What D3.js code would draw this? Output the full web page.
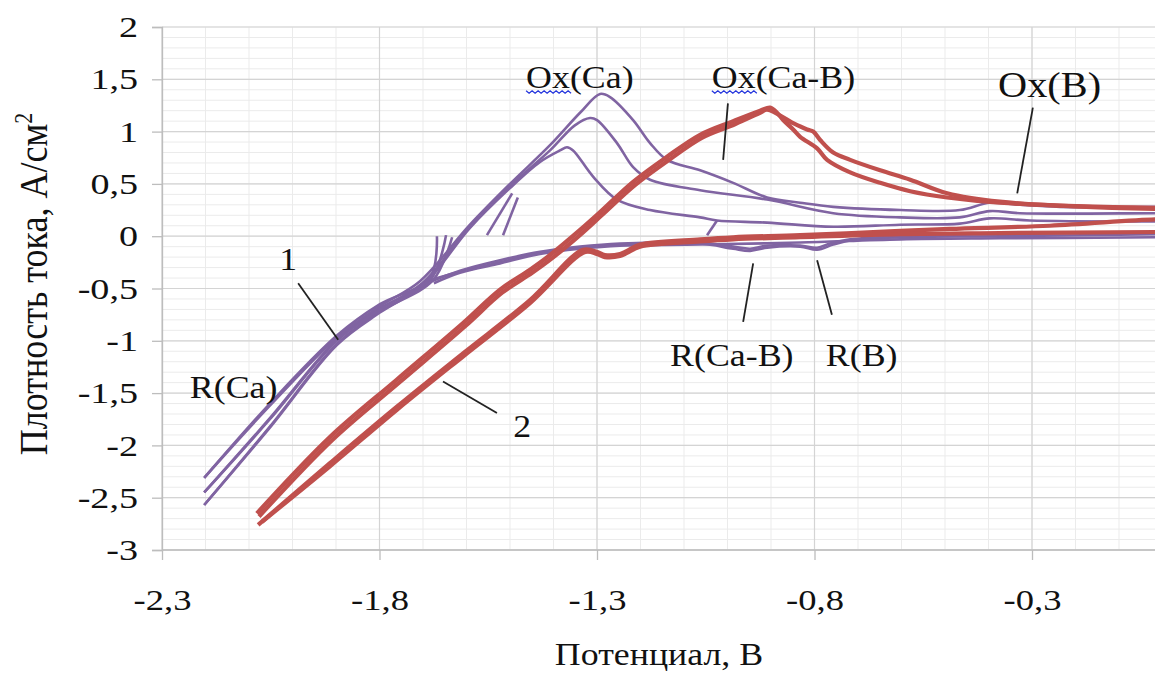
<!DOCTYPE html>
<html><head><meta charset="utf-8">
<script src="https://cdn.jsdelivr.net/npm/d3@7"></script>
<style>body{margin:0;background:#fff}svg{display:block}</style>
</head><body><svg id="c" width="1155" height="675"></svg>
<script>
// ---------- data (potential V, current density A/cm2) ----------
const xTicks = [-2.3, -1.8, -1.3, -0.8, -0.3];
const yTicks = [2, 1.5, 1, 0.5, 0, -0.5, -1, -1.5, -2, -2.5, -3];

// curve 1 (Ca): cathodic branches (start -> cathodic limit)
const caDown1 = [[-1.668,0.00],[-1.684,-0.40],[-1.799,-0.65],[-1.898,-0.95],[-2.052,-1.60],[-2.203,-2.31]];
const caDown2 = [[-1.647,0.01],[-1.682,-0.41],[-1.799,-0.69],[-1.898,-0.99],[-2.052,-1.74],[-2.203,-2.45]];
const caDown3 = [[-1.633,-0.01],[-1.677,-0.42],[-1.799,-0.72],[-1.898,-1.03],[-2.052,-1.82],[-2.203,-2.57]];
// curve 1 (Ca): anodic branches + return scan
const caUp1 = [[-2.203,-2.31],[-2.052,-1.62],[-1.898,-0.97],[-1.799,-0.67],[-1.707,-0.43],
  [-1.592,0.11],[-1.500,0.50],[-1.408,0.87],[-1.339,1.18],[-1.293,1.36],[-1.270,1.33],[-1.217,1.11],
  [-1.178,0.89],[-1.139,0.73],[-1.063,0.63],[-0.987,0.51],[-0.909,0.37],[-0.833,0.32],[-0.757,0.28],
  [-0.603,0.25],[-0.466,0.25],[-0.397,0.32],[-0.328,0.30],[-0.236,0.28],[-0.017,0.28],[0.05,0.28],
  [0.05,0.03],[-0.017,0.02],[-0.374,0.00],[-0.603,-0.01],[-0.718,-0.04],[-0.757,-0.08],[-0.794,-0.13],
  [-0.833,-0.10],[-0.909,-0.11],[-0.948,-0.14],[-0.987,-0.12],[-1.063,-0.07],[-1.247,-0.08],
  [-1.339,-0.11],[-1.431,-0.16],[-1.523,-0.25],[-1.615,-0.34],[-1.684,-0.42]];
const caUp2 = [[-2.203,-2.45],[-2.052,-1.75],[-1.898,-1.00],[-1.799,-0.70],[-1.702,-0.45],
  [-1.592,0.09],[-1.500,0.48],[-1.408,0.82],[-1.351,1.06],[-1.316,1.13],[-1.300,1.11],[-1.254,0.89],
  [-1.217,0.66],[-1.178,0.54],[-1.063,0.44],[-0.909,0.35],[-0.757,0.22],[-0.603,0.18],[-0.466,0.18],
  [-0.397,0.24],[-0.328,0.22],[-0.017,0.22],[0.05,0.22],
  [0.05,0.05],[-0.017,0.04],[-0.374,0.02],[-0.603,0.00],[-0.718,-0.03],[-0.764,-0.07],[-0.794,-0.11],
  [-0.833,-0.09],[-0.909,-0.09],[-0.948,-0.12],[-0.987,-0.10],[-1.063,-0.06],[-1.247,-0.07],
  [-1.339,-0.10],[-1.431,-0.15],[-1.523,-0.23],[-1.615,-0.33],[-1.680,-0.43]];
const caUp3 = [[-2.203,-2.57],[-2.052,-1.83],[-1.898,-1.04],[-1.799,-0.73],[-1.698,-0.46],
  [-1.592,0.08],[-1.500,0.46],[-1.431,0.71],[-1.385,0.82],[-1.369,0.85],[-1.355,0.82],[-1.309,0.57],
  [-1.254,0.35],[-1.178,0.25],[-1.063,0.18],[-1.024,0.15],[-0.909,0.13],[-0.757,0.09],[-0.603,0.11],
  [-0.466,0.12],[-0.397,0.17],[-0.305,0.15],[-0.017,0.14],[0.05,0.14],
  [0.05,0.00],[-0.017,-0.01],[-0.374,-0.02],[-0.603,-0.03],[-0.833,-0.06],[-1.063,-0.08],[-1.247,-0.09],
  [-1.339,-0.12],[-1.431,-0.17],[-1.523,-0.26],[-1.615,-0.35],[-1.675,-0.45]];
const caStub1 = [[-1.553,0.01],[-1.495,0.41]];
const caStub2 = [[-1.516,0.01],[-1.482,0.37]];
const caStub3 = [[-1.047,0.01],[-1.024,0.15]];

// curve 2 (Ca-B): cathodic branches
const cabDown1 = [[0.05,0.16],[-0.017,0.16],[-0.259,0.10],[-0.489,0.07],[-0.603,0.05],[-0.833,0.01],
  [-0.987,-0.01],[-1.063,-0.03],[-1.201,-0.08],[-1.231,-0.14],[-1.247,-0.17],[-1.282,-0.18],[-1.300,-0.15],
  [-1.332,-0.13],[-1.454,-0.61],[-1.608,-1.12],[-1.760,-1.63],[-1.914,-2.17],[-2.079,-2.76]];
const cabDown2 = [[0.05,0.04],[-0.017,0.04],[-0.374,0.03],[-0.603,0.02],[-0.833,-0.01],[-0.987,-0.03],
  [-1.063,-0.05],[-1.201,-0.10],[-1.231,-0.16],[-1.247,-0.19],[-1.282,-0.20],[-1.300,-0.17],[-1.327,-0.15],
  [-1.454,-0.64],[-1.608,-1.15],[-1.760,-1.66],[-1.914,-2.20],[-2.070,-2.73]];
// curve 2 (Ca-B): anodic branches
const cabUp1 = [[-2.082,-2.65],[-1.914,-1.92],[-1.760,-1.37],[-1.608,-0.83],[-1.523,-0.51],[-1.454,-0.32],
  [-1.408,-0.18],[-1.339,0.06],[-1.293,0.23],[-1.217,0.52],[-1.139,0.76],[-1.063,0.97],[-0.987,1.10],
  [-0.925,1.20],[-0.902,1.23],[-0.886,1.18],[-0.872,1.11],[-0.849,1.02],[-0.833,0.95],[-0.794,0.84],
  [-0.771,0.73],[-0.718,0.61],[-0.649,0.51],[-0.580,0.43],[-0.495,0.37],[-0.374,0.32],[-0.017,0.27],[0.05,0.27]];
const cabUp2 = [[-2.077,-2.68],[-1.909,-1.95],[-1.755,-1.40],[-1.603,-0.86],[-1.518,-0.54],[-1.449,-0.35],
  [-1.403,-0.21],[-1.334,0.03],[-1.289,0.20],[-1.212,0.49],[-1.134,0.73],[-1.059,0.94],[-0.983,1.07],
  [-0.925,1.18],[-0.909,1.21],[-0.849,1.08],[-0.817,1.02],[-0.803,1.00],[-0.787,0.92],[-0.757,0.80],
  [-0.718,0.73],[-0.649,0.63],[-0.580,0.54],[-0.495,0.41],[-0.374,0.33],[-0.017,0.26],[0.05,0.26]];

// annotations: text, anchor point (V, J); leader lines (V1,J1,V2,J2)
const labelTexts = ["Ox(Ca)", "Ox(Ca-B)", "Ox(B)", "1", "R(Ca)", "2", "R(Ca-B)", "R(B)"];
const labelPoints = [[-1.463,1.42],[-1.036,1.42],[-0.378,1.33],[-2.010,-0.32],[-2.236,-1.55],[-1.472,-1.92],[-1.132,-1.24],[-0.774,-1.24]];
const leaderLines = [[-0.999,1.27,-1.010,0.73],[-0.298,1.23,-0.334,0.41],[-1.987,-0.45,-1.895,-0.99],
  [-1.654,-1.39,-1.530,-1.69],[-0.941,-0.26,-0.964,-0.82],[-0.794,-0.23,-0.760,-0.75]];

// ---------- drawing ----------
const svg = d3.select("#c");
const FONT = "'Liberation Serif','Times New Roman',serif";
svg.append("rect").attr("width",1155).attr("height",675).attr("fill","#fff");

const x = d3.scaleLinear().domain([-2.3, 0.2]).range([162, 1249.5]);
const y = d3.scaleLinear().domain([-3, 2]).range([550, 27]);
const r1 = v => Math.round(v*10)/10;

// minor grid
const gMinor = svg.append("g");
d3.range(0, 26).map(i => r1(-2.3 + i*0.1)).forEach(v => {
  gMinor.append("line").attr("x1", x(v)).attr("x2", x(v)).attr("y1", 27).attr("y2", 550)
    .attr("stroke", "#ebebeb").attr("stroke-width", 1);
});
d3.range(0, 51).map(i => r1(-3 + i*0.1)).forEach(v => {
  gMinor.append("line").attr("x1", 162).attr("x2", 1155).attr("y1", y(v)).attr("y2", y(v))
    .attr("stroke", "#ebebeb").attr("stroke-width", 1);
});
// major grid
const gMajor = svg.append("g");
d3.range(0, 6).map(i => r1(-2.3 + i*0.5)).forEach(v => {
  gMajor.append("line").attr("x1", x(v)).attr("x2", x(v)).attr("y1", 27).attr("y2", 550)
    .attr("stroke", "#d4d4d4").attr("stroke-width", 1.2);
});
yTicks.forEach(v => {
  gMajor.append("line").attr("x1", 162).attr("x2", 1155).attr("y1", y(v)).attr("y2", y(v))
    .attr("stroke", "#d4d4d4").attr("stroke-width", 1.2);
});

const fmt = v => d3.format("")(v).replace(".", ",").replace("−", "-");

// axes
const yAxis = svg.append("g").attr("transform", "translate(162,0)")
  .call(d3.axisLeft(y).tickValues(yTicks).tickFormat(fmt).tickSize(10));
const xAxis = svg.append("g").attr("transform", "translate(0,550)")
  .call(d3.axisBottom(x).tickValues(xTicks).tickFormat(fmt).tickSize(10));
[yAxis, xAxis].forEach(a => {
  a.select(".domain").attr("stroke", "#bdbdbd").attr("stroke-width", 1.3);
  a.selectAll(".tick line").attr("stroke", "#bdbdbd").attr("stroke-width", 1.3);
  a.selectAll(".tick text").attr("font-family", FONT).attr("font-size", 30).attr("fill", "#111");
});
yAxis.selectAll(".tick text").attr("x", 0).attr("transform", "translate(-24,0) scale(1.27,1)");
xAxis.selectAll(".tick text").attr("y", 0).attr("transform", "translate(0,39) scale(1.22,1)");
xAxis.select(".domain").attr("d", "M162,0H1155");

// curves
const line = d3.line().x(d => x(d[0])).y(d => y(d[1])).curve(d3.curveCatmullRom.alpha(0.5));
const gLines = svg.append("g");
[caDown1, caDown2, caDown3, caUp1, caUp2, caUp3, caStub1, caStub2, caStub3].forEach(s => {
  gLines.append("path").attr("d", line(s)).attr("fill", "none")
    .attr("stroke", "#8064A2").attr("stroke-width", 2.6).attr("stroke-linejoin", "round");
});
[cabDown1, cabDown2, cabUp1, cabUp2].forEach(s => {
  gLines.append("path").attr("d", line(s)).attr("fill", "none")
    .attr("stroke", "#C0504D").attr("stroke-width", 4.2).attr("stroke-linejoin", "round");
});

// leader lines
leaderLines.forEach(l => {
  svg.append("line").attr("x1", x(l[0])).attr("y1", y(l[1])).attr("x2", x(l[2])).attr("y2", y(l[3]))
    .attr("stroke", "#222").attr("stroke-width", 1.8);
});

// labels
const labelSizes = [32, 32, 36, 32, 32, 32, 32, 32];
const anchors = ["start","start","start","middle","start","middle","start","start"];
const SX = 1.12;
labelTexts.forEach((t, i) => {
  const px = x(labelPoints[i][0]), py = y(labelPoints[i][1]);
  const el = svg.append("text")
    .attr("transform", `translate(${px},${py}) scale(${SX},1)`)
    .attr("font-family", FONT).attr("font-size", labelSizes[i]).attr("text-anchor", anchors[i])
    .attr("fill", "#111").text(t);
  if (i < 2) {
    const w = el.node().getSubStringLength(0, 2) * SX;
    const y0 = py + 3;
    let d = "M" + px + "," + y0;
    for (let k = 0; k * 3 < w; k++) d += "L" + (px + (k + 1) * 3) + "," + (y0 + (k % 2 ? 0 : 2.5));
    svg.append("path").attr("d", d).attr("fill", "none").attr("stroke", "#2233dd").attr("stroke-width", 1.2);
  }
});

// axis titles
svg.append("text").attr("transform", "translate(659,665) scale(1.12,1)").attr("text-anchor", "middle")
  .attr("font-family", FONT).attr("font-size", 32).attr("fill", "#111").text("Потенциал, В");
const yt = svg.append("text").attr("transform", "translate(47,284) scale(1.1,1) rotate(-90)").attr("text-anchor", "middle")
  .attr("font-family", FONT).attr("font-size", 36).attr("fill", "#111");
yt.append("tspan").text("Плотность тока, А/см");
yt.append("tspan").attr("dy", -14).attr("font-size", 22).text("2");
</script></body></html>
